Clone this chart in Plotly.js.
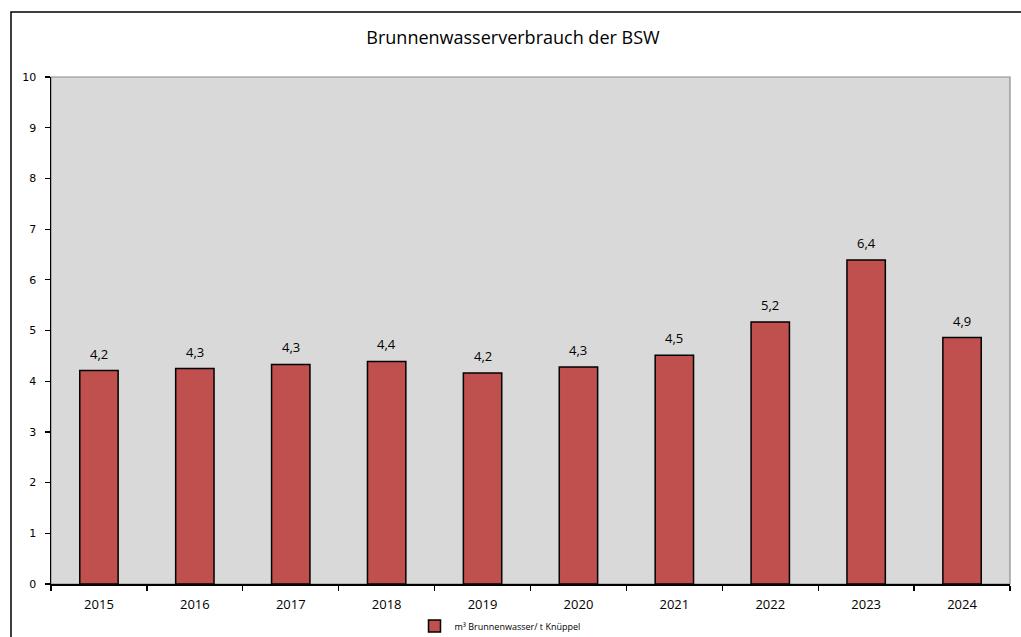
<!DOCTYPE html>
<html>
<head>
<meta charset="utf-8">
<script src="https://cdn.plot.ly/plotly-3.0.1.min.js"></script>
<style>html,body{margin:0;padding:0;background:#fff;}#chart{width:1021px;height:637px;}</style>
</head>
<body>
<div id="chart"></div>
<script>
const years = ['2015','2016','2017','2018','2019','2020','2021','2022','2023','2024'];
const values = [4.21, 4.25, 4.33, 4.39, 4.16, 4.28, 4.51, 5.17, 6.39, 4.86];
const seriesName = 'm³ Brunnenwasser/ t Knüppel';
const chartTitle = 'Brunnenwasserverbrauch der BSW';
const yTicks = [0,1,2,3,4,5,6,7,8,9,10];

const W = 1021, H = 637;
const m = {l: 51, r: 11, t: 77, b: 53};
const pw = W - m.l - m.r, ph = H - m.t - m.b;
const px = x => (x - m.l) / pw;
const py = y => (H - m.b - y) / ph;

const trace = {
  type: 'bar',
  x: years,
  y: values,
  name: seriesName,
  marker: {color: '#C0504D', line: {color: '#000', width: 1.5}},
  hoverinfo: 'skip'
};

const labels = years.map((yr, i) => ({
  x: i, y: values[i], xref: 'x', yref: 'y',
  text: values[i].toFixed(1).replace('.', ','),
  showarrow: false, yanchor: 'bottom', yshift: 6,
  font: {family: 'Open Sans, sans-serif', size: 13, color: '#000'}
}));

const layout = {
  width: W, height: H,
  margin: m,
  separators: ',.',
  paper_bgcolor: '#fff',
  plot_bgcolor: '#D9D9D9',
  bargap: 0.6,
  showlegend: true,
  title: {text: chartTitle, x: 513/W, xref: 'container', xanchor: 'center', y: 1 - 38/H, yanchor: 'middle',
          font: {family: 'Open Sans, sans-serif', size: 18, color: '#000'}},
  xaxis: {
    type: 'category', categoryorder: 'array', categoryarray: years, range: [-0.5, years.length - 0.5],
    tickson: 'boundaries', ticks: 'outside', ticklen: 5, tickwidth: 1.2, tickcolor: '#000',
    showline: true, linecolor: '#000', linewidth: 1.5, showgrid: false, zeroline: false,
    ticklabelstandoff: 8,
    tickfont: {family: 'Open Sans, sans-serif', size: 13, color: '#000'}
  },
  yaxis: {
    range: [0, 10], tickvals: yTicks, ticks: 'outside', ticklen: 5, tickwidth: 1.2, tickcolor: '#000',
    showline: true, linecolor: '#000', linewidth: 1.5, showgrid: false, zeroline: false,
    ticklabelstandoff: 6,
    tickfont: {family: 'DejaVu Sans, sans-serif', size: 11, color: '#000'}
  },
  legend: {orientation: 'h', x: 500/W, xref: 'container', xanchor: 'center', y: 1 - 626/H, yref: 'container', yanchor: 'middle',
           font: {family: 'Open Sans, sans-serif', size: 9, color: '#000'}, itemwidth: 30},
  annotations: labels,
  shapes: [
    {type: 'rect', xref: 'paper', yref: 'paper', x0: 0, x1: 1, y0: 0, y1: 1, layer: 'below',
     line: {color: '#8C8C8C', width: 1.2}},
    {type: 'rect', xref: 'paper', yref: 'paper', x0: px(11), x1: px(1030), y0: py(12), y1: py(650),
     line: {color: '#000', width: 1.5}}
  ]
};

Plotly.newPlot('chart', [trace], layout, {displayModeBar: false, staticPlot: true});
</script>
</body>
</html>
